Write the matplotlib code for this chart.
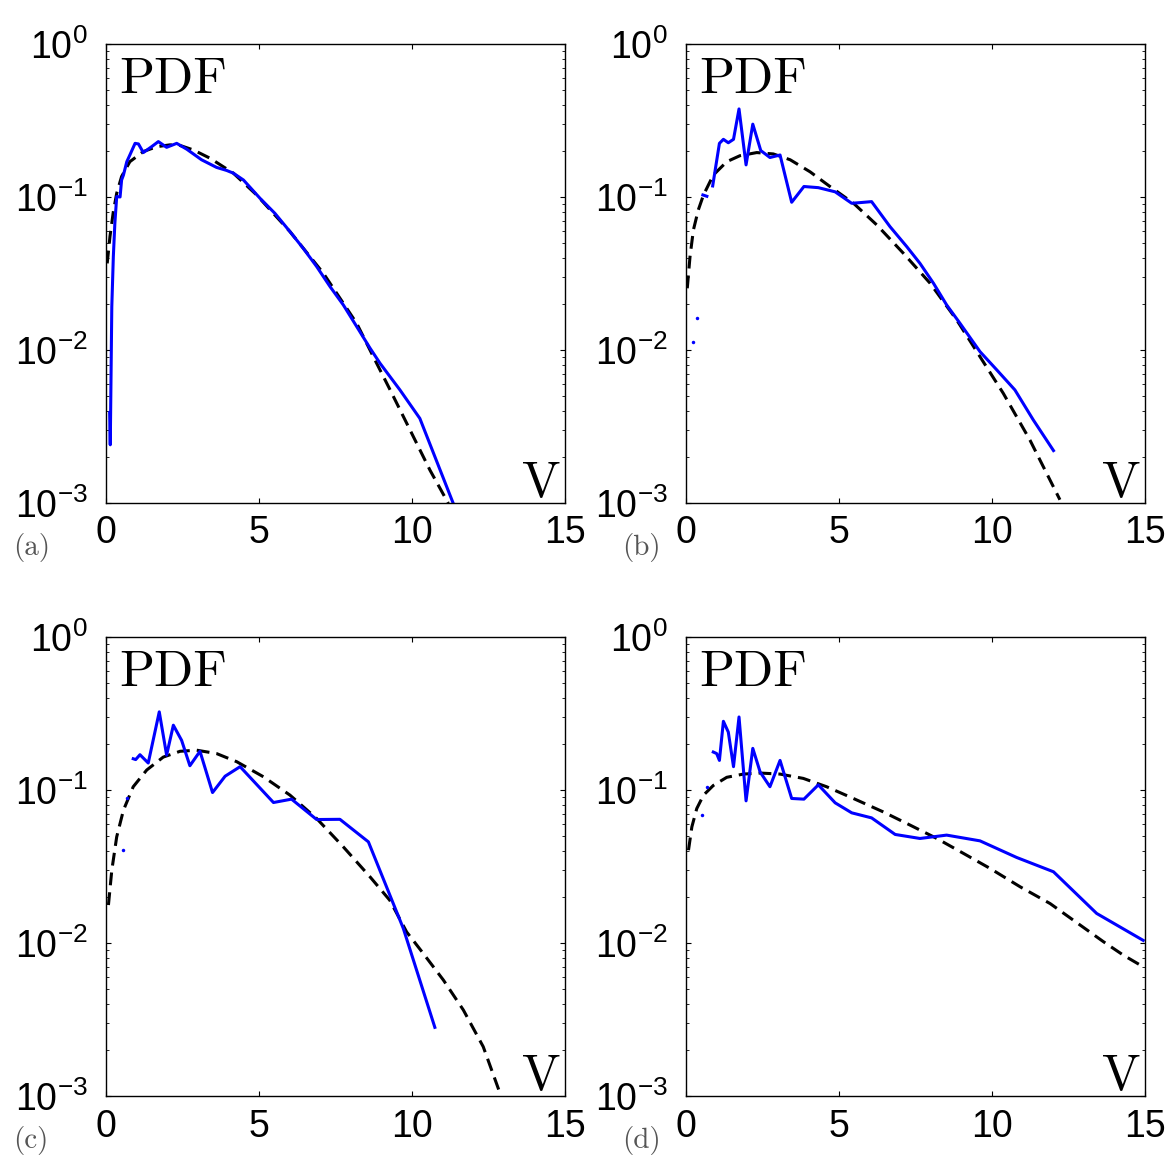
import numpy as np
import matplotlib
matplotlib.use("Agg")
import matplotlib.pyplot as plt

plt.rcParams['font.family'] = ['Liberation Sans', 'DejaVu Sans']

# panel (a)
a_v = [0.13, 0.15, 0.20, 0.25, 0.30, 0.36, 0.47, 0.52, 0.58, 0.69, 0.79, 0.96, 1.07, 1.23,
       1.50, 1.72, 1.99, 2.32, 2.65, 3.13, 3.62, 3.95, 4.17, 4.50, 5.04, 5.53, 6.02, 6.45,
       6.89, 7.33, 7.76, 8.20, 8.63, 8.96, 9.61, 10.26, 11.35]
a_pdf = [0.0039, 0.0024, 0.0192, 0.0408, 0.0673, 0.1005, 0.100, 0.129, 0.139, 0.170, 0.188,
         0.224, 0.222, 0.195, 0.213, 0.230, 0.211, 0.224, 0.205, 0.175, 0.156, 0.149, 0.143,
         0.129, 0.098, 0.078, 0.0593, 0.0462, 0.0351, 0.0259, 0.0197, 0.0142, 0.0103,
         0.00818, 0.00548, 0.00357, 0.000995]
a_fit_v = [0.05, 0.14, 0.25, 0.36, 0.52, 0.79, 1.23, 1.67, 2.10, 2.43, 2.86, 3.41, 4.17, 4.93,
           6.02, 7.11, 8.20, 8.74, 9.29, 9.94, 10.59, 11.19]
a_fit_pdf = [0.0368, 0.0551, 0.0802, 0.1057, 0.136, 0.170, 0.198, 0.213, 0.219, 0.217, 0.203,
             0.179, 0.143, 0.103, 0.0593, 0.0317, 0.0149, 0.00904, 0.00548, 0.0030, 0.00164,
             0.000995]
a_dots_v = []
a_dots_pdf = []

# panel (b)
b_v = [0.56, 0.69, np.nan, 0.88, 1.10, 1.23, 1.39, 1.56, 1.74, 1.97, 2.19, 2.45, 2.75, 3.08,
       3.46, 3.86, 4.33, 4.88, 5.42, 5.69, 6.07, 6.67, 7.22, 7.65, 8.09, 8.52, 8.96, 9.61,
       10.16, 10.75, 11.35, 12.01]
b_pdf = [0.103, 0.101, np.nan, 0.118, 0.224, 0.238, 0.226, 0.238, 0.376, 0.162, 0.299, 0.201,
         0.181, 0.188, 0.0923, 0.117, 0.115, 0.108, 0.0909, 0.0918, 0.0932, 0.064, 0.0473,
         0.0368, 0.0273, 0.0197, 0.0149, 0.00975, 0.0074, 0.00548, 0.00349, 0.0022]
b_fit_v = [0.05, 0.14, 0.25, 0.41, 0.58, 0.90, 1.34, 1.77, 2.32, 2.86, 3.41, 4.06, 4.71, 5.48,
           6.24, 7.11, 7.98, 8.85, 9.61, 10.37, 11.24, 12.22]
b_fit_pdf = [0.0253, 0.0408, 0.0608, 0.0822, 0.103, 0.139, 0.170, 0.186, 0.195, 0.191, 0.175,
             0.146, 0.117, 0.0909, 0.0656, 0.0428, 0.0273, 0.0157, 0.00904, 0.00521, 0.00258,
             0.00105]
b_dots_v = [0.25, 0.38]
b_dots_pdf = [0.0112, 0.0161]

# panel (c)
c_v = [0.90, 0.98, 1.12, 1.39, 1.75, 1.99, 2.21, 2.48, 2.75, 3.08, 3.49, 3.90, 4.39, 5.48,
       6.07, 6.89, 7.65, 8.58, 9.72, 10.75]
c_pdf = [0.160, 0.158, 0.170, 0.150, 0.324, 0.169, 0.265, 0.211, 0.144, 0.179, 0.0962, 0.123,
         0.142, 0.0828, 0.0871, 0.0641, 0.0643, 0.0458, 0.01245, 0.00281]
c_fit_v = [0.09, 0.20, 0.36, 0.58, 0.90, 1.34, 1.88, 2.43, 2.97, 3.62, 4.28, 5.15, 6.02, 6.89,
           7.76, 8.63, 9.28, 9.83, 10.37, 11.03, 11.68, 12.33, 12.88]
c_fit_pdf = [0.0177, 0.0299, 0.0494, 0.0738, 0.105, 0.135, 0.164, 0.179, 0.182, 0.173, 0.153,
             0.122, 0.0925, 0.0651, 0.0425, 0.0271, 0.0190, 0.0118, 0.00855, 0.00572, 0.00365,
             0.0021, 0.00104]
c_dots_v = [0.56, 0.71]
c_dots_pdf = [0.0404, 0.088]

# panel (d)
d_v = [0.90, 1.01, 1.10, 1.23, 1.39, 1.56, 1.74, 1.97, 2.19, 2.43, 2.75, 3.08, 3.46, 3.86,
       4.33, 4.88, 5.42, 6.07, 6.84, 7.65, 8.52, 9.61, 10.81, 12.01, 13.42, 14.94]
d_pdf = [0.177, 0.173, 0.156, 0.281, 0.239, 0.142, 0.300, 0.0849, 0.187, 0.131, 0.105, 0.156,
         0.088, 0.0871, 0.108, 0.0824, 0.0709, 0.0657, 0.0512, 0.0482, 0.0507, 0.0465, 0.0362,
         0.0292, 0.0156, 0.0104]
d_fit_v = [0.09, 0.20, 0.36, 0.58, 0.90, 1.34, 1.88, 2.43, 3.08, 3.84, 4.60, 5.48, 6.45, 7.33,
           8.20, 9.07, 9.94, 10.92, 11.90, 12.88, 13.64, 14.29, 14.94]
d_fit_pdf = [0.0404, 0.0574, 0.0756, 0.0925, 0.107, 0.121, 0.127, 0.129, 0.127, 0.119, 0.105,
             0.0879, 0.0719, 0.0589, 0.0482, 0.0385, 0.0307, 0.0233, 0.0181, 0.0131, 0.0102,
             0.00833, 0.00699]
d_dots_v = [0.54, 0.69]
d_dots_pdf = [0.0684, 0.105]

panels = [
    ("(a)", a_v, a_pdf, a_fit_v, a_fit_pdf, a_dots_v, a_dots_pdf),
    ("(b)", b_v, b_pdf, b_fit_v, b_fit_pdf, b_dots_v, b_dots_pdf),
    ("(c)", c_v, c_pdf, c_fit_v, c_fit_pdf, c_dots_v, c_dots_pdf),
    ("(d)", d_v, d_pdf, d_fit_v, d_fit_pdf, d_dots_v, d_dots_pdf),
]

lefts = [0.0904, 0.5866, 0.0904, 0.5866]
bottoms = [0.5649, 0.5649, 0.0519, 0.0519]
tag_x = [0.011, 0.532, 0.011, 0.532]
tag_y = [0.520, 0.520, 0.0072, 0.0072]

fig = plt.figure(figsize=(11.69, 11.56), dpi=100)

for i, (tag, v, p, fv, fp, dv, dp) in enumerate(panels):
    ax = fig.add_axes([lefts[i], bottoms[i], 0.3929, 0.3971])
    ax.plot(fv, fp, color='black', lw=2.2, linestyle=(0, (4.2, 2.3)))
    ax.plot(v, p, color='#0000ff', lw=2.2)
    if dv:
        ax.plot(dv, dp, linestyle='none', marker='o', ms=2.5, color='#0000ff', mec='none')
    ax.set_yscale('log')
    ax.set_xlim(0, 15)
    ax.set_ylim(1e-3, 1)
    ax.set_xticks([0, 5, 10, 15])
    ax.tick_params(which='both', direction='in', top=True, right=True, labelsize=27)
    ax.tick_params(which='major', length=3.8, width=0.8)
    ax.tick_params(which='minor', length=2.2, width=0.6)
    ax.tick_params(axis='x', pad=9)
    ax.tick_params(axis='y', pad=13)
    for s in ax.spines.values():
        s.set_linewidth(1.0)
    ax.text(0.029, 0.893, 'PDF', transform=ax.transAxes, family='cmr10', fontsize=37,
            va='baseline', ha='left')
    ax.text(0.906, 0.015, 'V', transform=ax.transAxes, family='cmr10', fontsize=37,
            va='baseline', ha='left')
    fig.text(tag_x[i], tag_y[i], tag, family='cmr10', fontsize=21, color='#555555',
             va='baseline', ha='left')

fig.savefig('out.png', dpi=100)
